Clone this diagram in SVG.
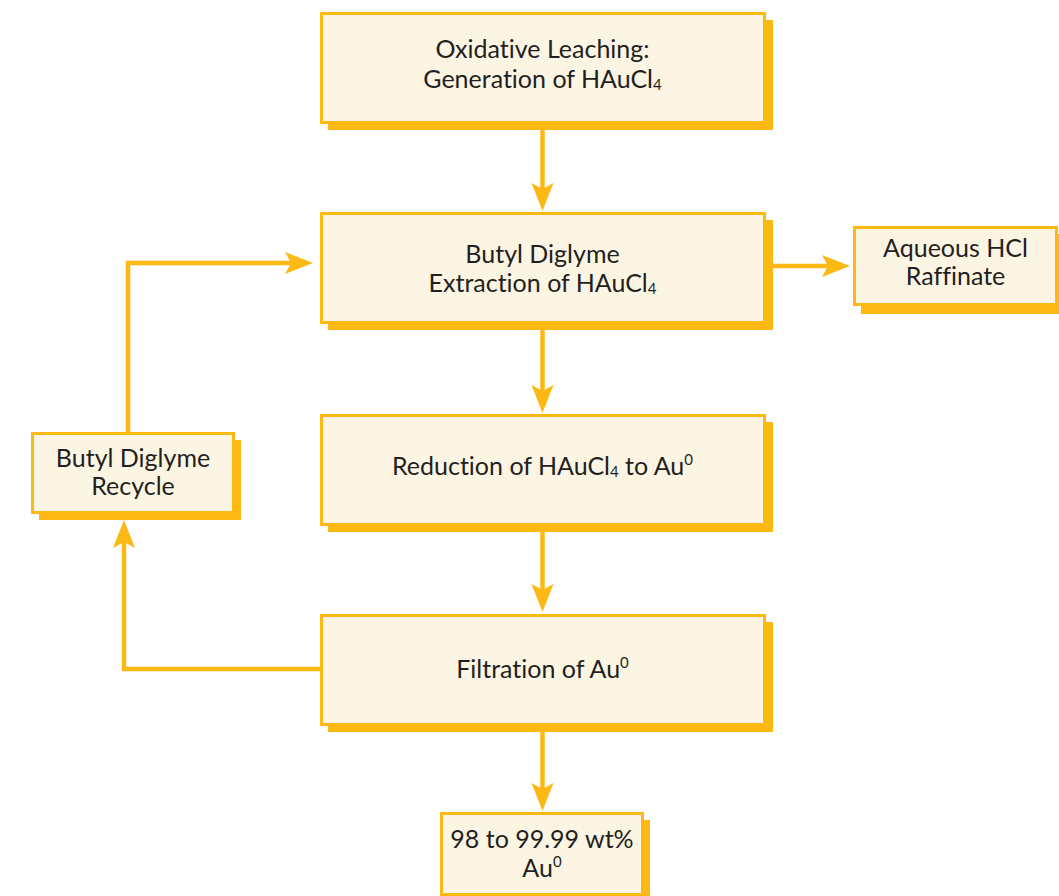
<svg xmlns="http://www.w3.org/2000/svg" width="1059" height="896" viewBox="0 0 1059 896">
<defs>
<style>
.sh{fill:#FDB913}
.bx{fill:#FDF5E3;stroke:#FDB913;stroke-width:3}
.t{font-family:"Lato","Open Sans",sans-serif;font-size:25px;fill:#231F20;text-anchor:middle;font-variant-ligatures:none}
.c{fill:none;stroke:#FDB913;stroke-width:4.5}
.s{font-size:15px}
</style>
<marker id="ah" markerUnits="userSpaceOnUse" markerWidth="30" markerHeight="24" refX="6" refY="11" orient="auto" overflow="visible">
<path d="M0,0 L28,11 L0,22 L6,11 Z" fill="#FDB913"/>
</marker>
</defs>
<g id="connectors">
<path class="c" d="M542.5,130 V189" marker-end="url(#ah)"/>
<path class="c" d="M542.5,330 V391" marker-end="url(#ah)"/>
<path class="c" d="M542.5,532 V590" marker-end="url(#ah)"/>
<path class="c" d="M542.5,732 V789" marker-end="url(#ah)"/>
<path class="c" d="M773,266 H828" marker-end="url(#ah)"/>
<path class="c" d="M128,433 V263 H291" marker-end="url(#ah)"/>
<path class="c" d="M320,669 H124 V542" marker-end="url(#ah)"/>
</g>
<g id="leach">
<rect class="sh" x="328" y="20" width="445" height="110"/>
<rect class="bx" x="321.5" y="13.5" width="443" height="109"/>
<text class="t" x="542.5" y="58">Oxidative Leaching:</text>
<text class="t" x="542.5" y="88">Generation of HAuCl<tspan class="s" dy="2">4</tspan></text>
</g>
<g id="extract">
<rect class="sh" x="328" y="220" width="445" height="110"/>
<rect class="bx" x="321.5" y="213.5" width="443" height="109"/>
<text class="t" x="542.5" y="263">Butyl Diglyme</text>
<text class="t" x="542.5" y="292">Extraction of HAuCl<tspan class="s" dy="2">4</tspan></text>
</g>
<g id="reduce">
<rect class="sh" x="328" y="422" width="445" height="110"/>
<rect class="bx" x="321.5" y="415.5" width="443" height="109"/>
<text class="t" x="542.5" y="475">Reduction of HAuCl<tspan class="s" dy="2">4</tspan><tspan dy="-2"> to Au</tspan><tspan class="s" dy="-10">0</tspan></text>
</g>
<g id="filter">
<rect class="sh" x="328" y="622" width="445" height="110"/>
<rect class="bx" x="321.5" y="615.5" width="443" height="109"/>
<text class="t" x="542.5" y="678">Filtration of Au<tspan class="s" dy="-10">0</tspan></text>
</g>
<g id="raffinate">
<rect class="sh" x="861" y="234" width="205" height="80"/>
<rect class="bx" x="854.5" y="227.5" width="202" height="77"/>
<text class="t" x="955.5" y="257">Aqueous HCl</text>
<text class="t" x="955.5" y="285">Raffinate</text>
</g>
<g id="recycle">
<rect class="sh" x="39" y="440" width="202" height="80"/>
<rect class="bx" x="32.5" y="433.5" width="201" height="79"/>
<text class="t" x="133" y="467">Butyl Diglyme</text>
<text class="t" x="133" y="495">Recycle</text>
</g>
<g id="product">
<rect class="sh" x="448" y="820" width="202" height="80"/>
<rect class="bx" x="441.5" y="813.5" width="201" height="81"/>
<text class="t" x="542" y="848">98 to 99.99 wt%</text>
<text class="t" x="542" y="877">Au<tspan class="s" dy="-10">0</tspan></text>
</g>
</svg>
